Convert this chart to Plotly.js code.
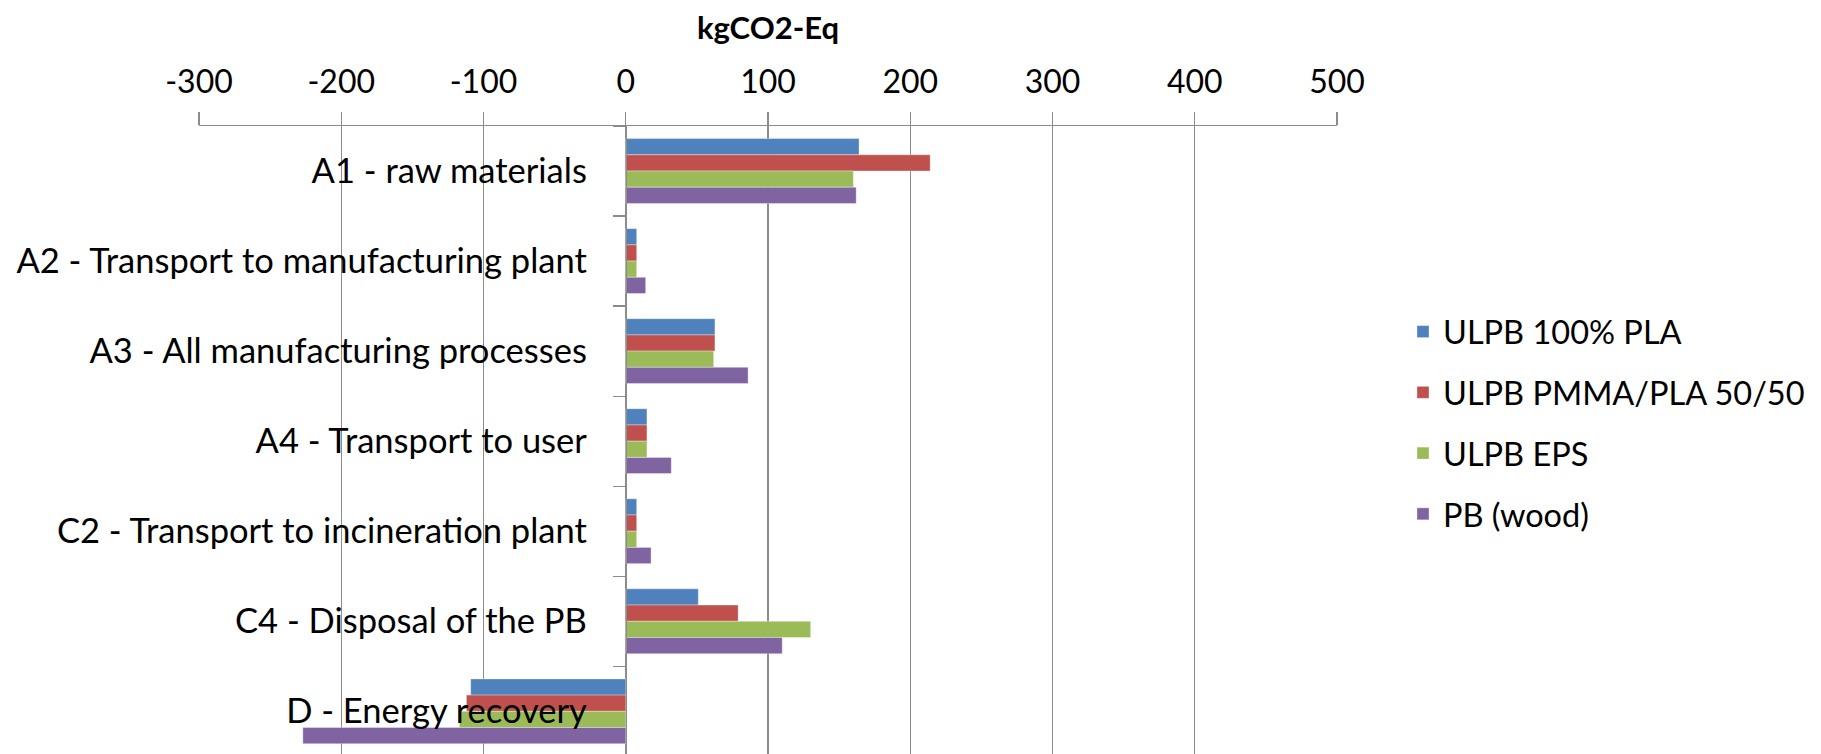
<!DOCTYPE html>
<html>
<head>
<meta charset="utf-8">
<script src="https://cdn.plot.ly/plotly-3.0.1.min.js"></script>
<style>html,body{margin:0;padding:0;background:#fff;}#chart{width:1821px;height:754px;}</style>
</head>
<body>
<div id="chart"></div>
<script>
const categories = [
  "A1 - raw materials",
  "A2 - Transport to manufacturing plant",
  "A3 - All manufacturing processes",
  "A4 - Transport to user",
  "C2 - Transport to incineration plant",
  "C4 - Disposal of the PB",
  "D - Energy recovery"
];
const seriesNames = ["ULPB 100% PLA", "ULPB PMMA/PLA 50/50", "ULPB EPS", "PB (wood)"];
const pla100 = [164, 7.7, 62.7, 14.9, 7.7, 51, -109];
const pmmaPla = [214, 7.7, 62.7, 14.9, 7.7, 79, -112];
const eps = [160, 7.7, 61.8, 14.9, 7.7, 130, -117];
const pbWood = [162, 14, 86, 32, 17.8, 110, -227];
const xTicks = [-300, -200, -100, 0, 100, 200, 300, 400, 500];
const colors = ["#4F81BD", "#C0504D", "#9BBB59", "#8064A2"];

const seriesValues = [pla100, pmmaPla, eps, pbWood];
const FONT = "Lato, 'Open Sans', sans-serif";

const traces = seriesValues.map((vals, i) => ({
  type: "bar",
  orientation: "h",
  name: seriesNames[i],
  x: vals,
  y: categories,
  marker: {color: colors[i], line: {color: "rgba(255,255,255,0.35)", width: 1}},
  legendgroup: "g" + i,
  hoverinfo: "x+name"
}));

const layout = {
  width: 1821,
  height: 754,
  margin: {l: 199, r: 484, t: 126, b: 0, pad: 0},
  paper_bgcolor: "#fff",
  plot_bgcolor: "#fff",
  barmode: "group",
  bargap: 0.28,
  bargroupgap: 0,
  font: {family: FONT, color: "#000", size: 32},
  xaxis: {
    side: "top",
    range: [-300, 500],
    tickvals: xTicks,
    ticktext: xTicks.map(String),
    showgrid: true,
    gridcolor: "#8c8c8c",
    gridwidth: 1.3,
    zeroline: false,
    showline: true,
    linecolor: "#8c8c8c",
    linewidth: 1.3,
    ticks: "outside",
    ticklen: 13,
    tickcolor: "#8c8c8c",
    tickwidth: 1.3,
    ticklabelstandoff: 6,
    tickfont: {family: FONT, size: 32, color: "#000"},
    domain: [0, 1],
    title: {text: "<b>kgCO2-Eq</b>", font: {family: FONT, size: 31, color: "#000"}, standoff: 12}
  },
  yaxis: {
    type: "category",
    categoryorder: "array",
    categoryarray: categories,
    range: [6.474, -0.5],
    anchor: "free",
    position: 0.375,
    showgrid: false,
    zeroline: false,
    showline: true,
    linecolor: "#8c8c8c",
    linewidth: 1.3,
    ticks: "outside",
    tickson: "boundaries",
    ticklen: 13,
    tickcolor: "#8c8c8c",
    tickwidth: 1.3,
    ticklabelstandoff: 32,
    tickfont: {family: FONT, size: 34.5, color: "#000"}
  },
  showlegend: true,
  legend: {
    x: 1.058,
    xanchor: "left",
    y: 0.7166,
    yanchor: "top",
    traceorder: "grouped",
    tracegroupgap: 15.5,
    font: {family: FONT, size: 32.5, color: "#000"},
    bgcolor: "rgba(0,0,0,0)"
  }
};

Plotly.newPlot("chart", traces, layout, {displayModeBar: false, staticPlot: true});
</script>
</body>
</html>
